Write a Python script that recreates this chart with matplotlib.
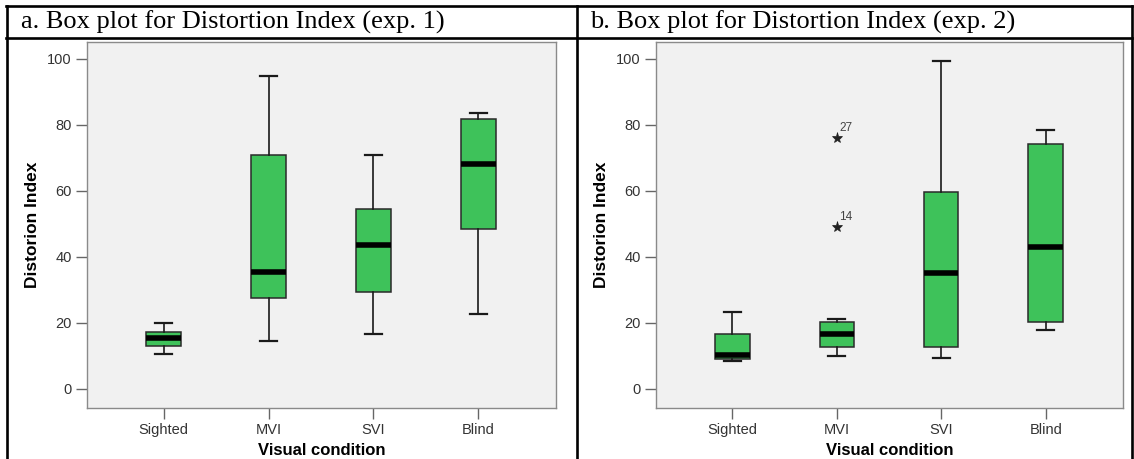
import matplotlib
matplotlib.use("Agg")
import matplotlib.pyplot as plt
from matplotlib.lines import Line2D

# ---------------- data ----------------
categories = ["Sighted", "MVI", "SVI", "Blind"]

# experiment 1
exp1_whislo = [10.7, 14.5, 16.7, 22.7]
exp1_q1     = [13.0, 27.5, 29.4, 48.4]
exp1_med    = [15.6, 35.5, 43.6, 68.1]
exp1_q3     = [17.4, 71.0, 54.5, 81.8]
exp1_whishi = [19.9, 94.8, 70.9, 83.5]
exp1_fliers = [[], [], [], []]
exp1_flier_ids = [[], [], [], []]

# experiment 2
exp2_whislo = [8.5, 10.0, 9.3, 17.8]
exp2_q1     = [9.0, 12.6, 12.8, 20.4]
exp2_med    = [10.3, 16.8, 35.0, 43.1]
exp2_q3     = [16.6, 20.4, 59.7, 74.3]
exp2_whishi = [23.3, 21.3, 99.5, 78.4]
exp2_fliers = [[], [76.2, 49.0], [], []]
exp2_flier_ids = [[], ["27", "14"], [], []]

titles = ["a. Box plot for Distortion Index (exp. 1)",
          "b. Box plot for Distortion Index (exp. 2)"]
y_ticks = [0, 20, 40, 60, 80, 100]
y_label = "Distorion Index"
x_label = "Visual condition"

# ---------------- style ----------------
W, H = 1134, 459
DPI = 100
BOX_GREEN = "#3EC25A"
PLOT_BG = "#F1F1F1"
FRAME = "#8A8A8A"
TXT = "#333333"

fig = plt.figure(figsize=(W / DPI, H / DPI), dpi=DPI)
fig.patch.set_facecolor("white")


def fx(px):
    return px / W


def fy(py):
    return 1 - py / H


def make_stats(whislo, q1, med, q3, whishi):
    out = []
    for i in range(len(med)):
        out.append(dict(whislo=whislo[i], q1=q1[i], med=med[i], q3=q3[i],
                        whishi=whishi[i], fliers=[]))
    return out


def draw_panel(left_px, right_px, stats, fliers, flier_ids, title, title_x_px):
    ax = fig.add_axes([fx(left_px), fy(408), fx(right_px - left_px), (408 - 42) / H])
    ax.set_facecolor(PLOT_BG)
    positions = list(range(1, len(categories) + 1))
    ax.bxp(stats, positions=positions, widths=0.33, patch_artist=True,
           showfliers=False,
           boxprops=dict(facecolor=BOX_GREEN, edgecolor="#2a2a2a", linewidth=1.1),
           medianprops=dict(color="black", linewidth=4.0, solid_capstyle="butt"),
           whiskerprops=dict(color="#1a1a1a", linewidth=1.2),
           capprops=dict(color="#1a1a1a", linewidth=1.6),
           capwidths=0.16)
    for i, (vals, ids) in enumerate(zip(fliers, flier_ids)):
        for v, lab in zip(vals, ids):
            ax.plot(positions[i], v, marker="*", color="#222222",
                    markersize=8, markeredgewidth=0.5, linestyle="none", zorder=5)
            ax.annotate(lab, (positions[i], v), xytext=(2, 5),
                        textcoords="offset points", fontsize=8.5,
                        color="#444444", family="Liberation Sans")
    ax.set_xlim(0.27, 4.74)
    ax.set_ylim(-5.76, 105.15)
    ax.set_yticks(y_ticks)
    ax.set_xticks(positions)
    ax.set_xticklabels(categories)
    for sp in ax.spines.values():
        sp.set_color(FRAME)
        sp.set_linewidth(1.0)
    ax.tick_params(axis="both", direction="out", length=8, width=1.0,
                   color="#666666", labelcolor=TXT, labelsize=10.5, pad=3)
    for lab in ax.get_xticklabels() + ax.get_yticklabels():
        lab.set_family("Liberation Sans")
    ax.set_ylabel(y_label, fontsize=12.5, fontweight="bold",
                  family="Liberation Sans", color="black", labelpad=5)
    ax.set_xlabel(x_label, fontsize=12, fontweight="bold",
                  family="Liberation Sans", color="black", labelpad=4)
    fig.text(fx(title_x_px), fy(22), title, fontsize=19,
             family="Liberation Serif", va="center", ha="left", color="black")
    return ax


stats1 = make_stats(exp1_whislo, exp1_q1, exp1_med, exp1_q3, exp1_whishi)
stats2 = make_stats(exp2_whislo, exp2_q1, exp2_med, exp2_q3, exp2_whishi)

draw_panel(87, 556, stats1, exp1_fliers, exp1_flier_ids, titles[0], 21)
draw_panel(656, 1123, stats2, exp2_fliers, exp2_flier_ids, titles[1], 590)

# table borders
lw = 1.9
for (x0, y0, x1, y1) in [(6, 6, 1132, 6), (6, 38, 1132, 38),
                         (7, 6, 7, 459), (577, 6, 577, 459), (1132, 6, 1132, 459)]:
    fig.add_artist(Line2D([fx(x0), fx(x1)], [fy(y0), fy(y1)],
                          color="black", linewidth=lw, solid_capstyle="projecting"))

fig.savefig("out.png", dpi=DPI)
